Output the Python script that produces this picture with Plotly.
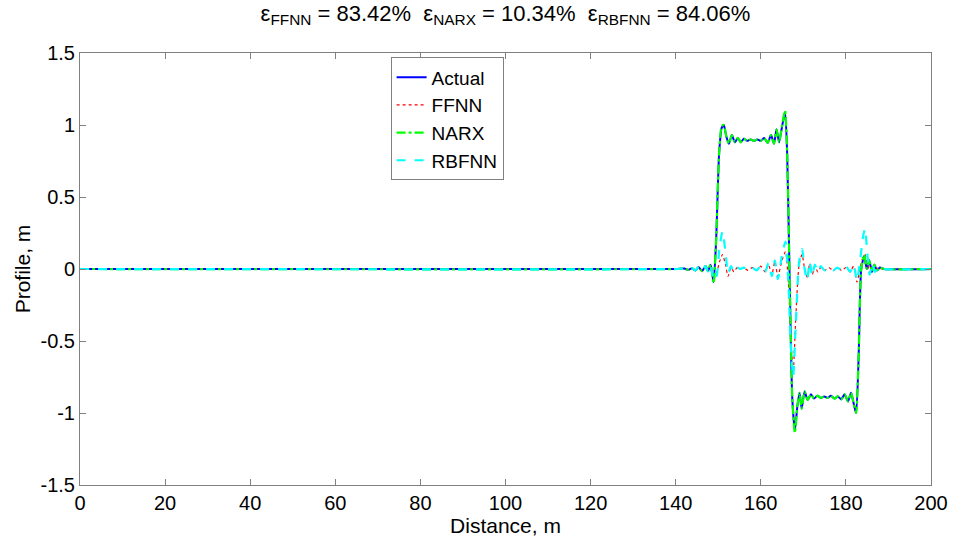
import plotly.graph_objects as go

# ---- data ----
actual_x = [0, 140, 142, 143, 143.8, 144.6, 145.4, 146.2, 147, 147.6, 148.2, 148.9, 149.5, 150.2, 150.8, 151.3,
            151.9, 152.5, 153.2, 153.9, 154.6, 155.3, 156, 156.8, 157.6, 158.4, 159.2, 160, 160.8, 161.6, 162.4,
            163.1, 163.7, 164.3, 165.0, 165.7, 166.2, 166.8, 167.4, 168.0, 168.6, 169.1, 169.6, 170.3, 171.0,
            171.8, 172.5, 173.3, 174.1, 174.9, 175.7, 176.5, 177.3, 178.1, 178.9, 179.7, 180.5, 181.2, 181.8,
            182.4, 183.0, 183.6, 184.3, 184.9, 185.5, 186.1, 186.7, 187.3, 188.0, 189.0, 200]
actual_y = [0, 0, 0.003, -0.006, 0.006, -0.01, 0.012, -0.015, 0.02, -0.015, 0.03, -0.09, 0.2, 0.8, 0.98, 1.0,
            0.92, 0.87, 0.93, 0.88, 0.91, 0.88, 0.905, 0.89, 0.9, 0.89, 0.9, 0.89, 0.91, 0.875, 0.93,
            0.87, 0.97, 0.88, 0.99, 1.09, 0.8, -0.1, -0.9, -1.12, -0.95, -0.86, -0.97, -0.85, -0.91,
            -0.87, -0.9, -0.88, -0.895, -0.885, -0.895, -0.88, -0.9, -0.885, -0.905, -0.87, -0.92, -0.86, -0.93,
            -1.0, -0.6, 0.0, 0.09, 0.0, 0.06, -0.02, 0.03, -0.01, 0.01, 0, 0]

narx_x = actual_x
narx_y = [0, 0, 0.003, -0.006, 0.006, -0.01, 0.012, -0.015, 0.02, -0.015, 0.03, -0.1, 0.2, 0.8, 0.99, 1.0,
          0.92, 0.87, 0.93, 0.88, 0.91, 0.88, 0.905, 0.89, 0.9, 0.89, 0.9, 0.89, 0.91, 0.875, 0.93,
          0.87, 0.97, 0.88, 1.0, 1.1, 0.8, -0.1, -0.9, -1.14, -0.95, -0.86, -0.97, -0.85, -0.91,
          -0.87, -0.9, -0.88, -0.895, -0.885, -0.895, -0.88, -0.9, -0.885, -0.905, -0.87, -0.92, -0.86, -0.93,
          -1.0, -0.6, 0.0, 0.1, 0.0, 0.06, -0.02, 0.03, -0.01, 0.01, 0, 0]

rbfnn_x = [0, 140, 142, 143, 143.8, 144.6, 145.4, 146.2, 147, 147.6, 148.2, 148.9, 149.6, 150.3, 151, 151.7,
           152.3, 153, 153.7, 154.4, 155.2, 156, 157, 158, 159, 160, 161, 161.8, 162.6, 163.3, 164, 165,
           165.8, 166.5, 167, 167.6, 168.2, 169.0, 169.7, 170.3, 170.9, 171.5, 172.1, 172.7, 173.4, 174.1,
           175, 176, 177, 178, 179, 180, 181, 181.8, 182.6, 183.3, 184.0, 184.5, 185.0, 185.6, 186.2, 186.8,
           187.5, 188.5, 200]
rbfnn_y = [0, 0, 0.003, -0.006, 0.006, -0.01, 0.012, -0.015, 0.02, -0.015, 0.03, -0.08, -0.05, 0.15, 0.26, 0.12,
           -0.03, 0.02, -0.02, 0.01, 0.0, 0.01, -0.01, 0.01, -0.01, 0.02, -0.02, 0.04, -0.05, 0.06, -0.07, 0.1,
           0.19, -0.1, -0.5, -0.75, -0.4, 0.05, 0.14, 0.0, -0.08, 0.05, -0.05, 0.03, -0.02, 0.02,
           -0.01, 0.01, -0.01, 0.01, -0.01, 0.02, -0.02, 0.03, -0.08, 0.05, 0.22, 0.28, 0.12, -0.04, 0.04, -0.02,
           0.01, 0, 0]

ffnn_x = rbfnn_x
ffnn_y = [0, 0, 0.003, -0.006, 0.006, -0.01, 0.012, -0.015, 0.02, -0.015, 0.03, -0.07, -0.03, 0.05, 0.1, 0.03,
          -0.05, 0.01, -0.02, 0.01, 0.0, 0.01, -0.01, 0.01, -0.01, 0.02, -0.02, 0.03, -0.04, 0.05, -0.05, 0.06,
          0.12, -0.1, -0.45, -0.72, -0.35, 0.03, 0.1, 0.0, -0.06, 0.04, -0.04, 0.02, -0.02, 0.01,
          -0.01, 0.01, -0.01, 0.01, -0.01, 0.01, -0.02, 0.02, -0.09, 0.0, 0.08, 0.1, 0.05, -0.03, 0.03, -0.01,
          0.01, 0, 0]

title_text = ("ε<sub>FFNN</sub> = 83.42%  ε<sub>NARX</sub> = 10.34%  ε<sub>RBFNN</sub> = 84.06%")
x_ticks = [0, 20, 40, 60, 80, 100, 120, 140, 160, 180, 200]
y_ticks = [-1.5, -1, -0.5, 0, 0.5, 1, 1.5]
y_tick_labels = ["-1.5", "-1", "-0.5", "0", "0.5", "1", "1.5"]

FONT = "Liberation Sans, Arial, sans-serif"

fig = go.Figure()
fig.add_trace(go.Scatter(x=actual_x, y=actual_y, name="Actual", mode="lines",
                         line=dict(color="#0000ff", width=2, shape="spline", smoothing=0.6)))
fig.add_trace(go.Scatter(x=ffnn_x, y=ffnn_y, name="FFNN", mode="lines",
                         line=dict(color="#ff0000", width=1.2, dash="dot", shape="spline", smoothing=0.6)))
fig.add_trace(go.Scatter(x=narx_x, y=narx_y, name="NARX", mode="lines",
                         line=dict(color="#00ff00", width=2.2, dash="dashdot", shape="spline", smoothing=0.6)))
fig.add_trace(go.Scatter(x=rbfnn_x, y=rbfnn_y, name="RBFNN", mode="lines",
                         line=dict(color="#00ffff", width=2.2, dash="dash", shape="spline", smoothing=0.6)))

axis_common = dict(showgrid=False, zeroline=False, showline=True, linecolor="#808080", linewidth=1,
                   mirror="ticks", ticks="inside", ticklen=6, tickcolor="#808080",
                   tickfont=dict(family=FONT, size=20, color="#000000"))

fig.update_layout(
    width=960, height=541,
    margin=dict(l=80, r=23, t=53, b=49),
    paper_bgcolor="white", plot_bgcolor="white",
    title=dict(text=title_text, x=0.5, xref="paper", xanchor="center", y=0.99, yanchor="top",
               font=dict(family=FONT, size=22, color="#000000")),
    xaxis=dict(range=[0, 200], tickvals=x_ticks, ticktext=[str(v) for v in x_ticks],
               title=dict(text="Distance, m", font=dict(family=FONT, size=21, color="#000000"), standoff=0),
               **axis_common),
    yaxis=dict(range=[-1.5, 1.5], tickvals=y_ticks, ticktext=y_tick_labels,
               title=dict(text="Profile, m", font=dict(family=FONT, size=21, color="#000000"), standoff=4),
               **axis_common),
    legend=dict(x=0.365, y=0.99, xanchor="left", yanchor="top", bgcolor="white",
                bordercolor="#808080", borderwidth=1, tracegroupgap=0, itemwidth=30,
                font=dict(family=FONT, size=19, color="#000000")),
    showlegend=True,
)

fig.write_html("out.html")
